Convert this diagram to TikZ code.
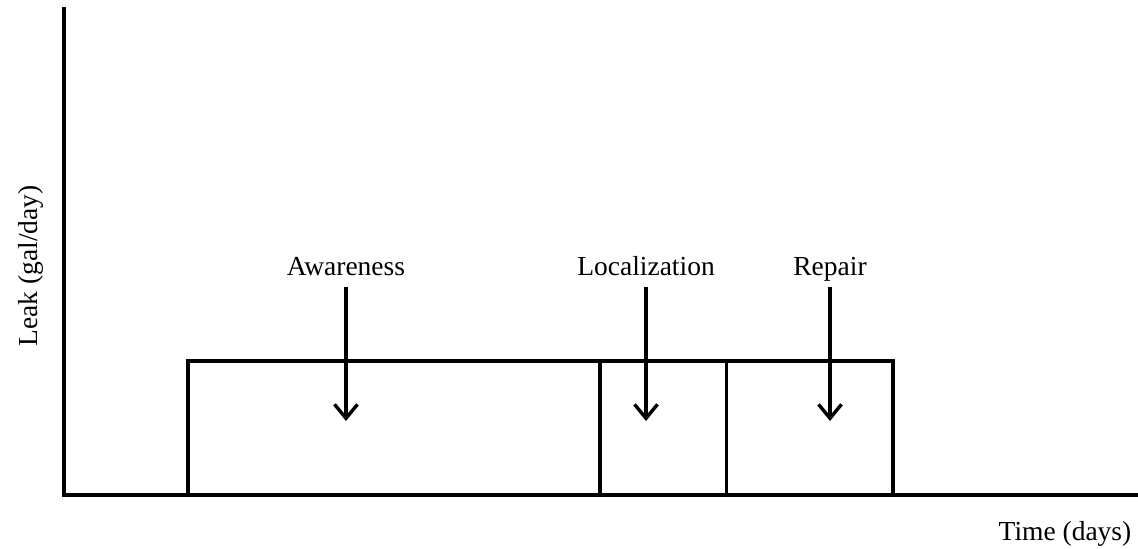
\documentclass[tikz,border=0pt]{standalone}
\usepackage{fontspec}
\setmainfont{Liberation Serif}
\usetikzlibrary{arrows.meta}

\begin{document}
\begin{tikzpicture}[x=0.5pt, y=0.5pt,
    axis/.style={line width=2.3pt},
    phase/.style={line width=1.7pt},
    pointer/.style={line width=1.7pt, -{Straight Barb[length=7pt, width=11.5pt]}},
    tag/.style={anchor=base, inner sep=0pt, font=\fontsize{13.75}{16}\selectfont}]

    \useasboundingbox (0,0) rectangle (1138,548);

    % axes
    \coordinate (origin) at (64,53);
    \coordinate (ytop) at (64,541);
    \coordinate (xend) at (1138,53);
    \draw[axis] (ytop) -- (origin) -- (xend);
    \node[tag, rotate=90] (leak) at (37,282) {Leak (gal/day)};
    \node[tag] (time) at (1065,8) {Time (days)};

    % phases
    \draw[phase] (188,53) rectangle (600,187);
    \draw[phase] (600,53) rectangle (726.5,187);
    \draw[phase] (726.5,53) rectangle (893,187);

    \node[tag] (awareness) at (346,273) {Awareness};
    \node[tag] (localization) at (646,273) {Localization};
    \node[tag] (repair) at (830,273) {Repair};

    \coordinate (awareness-tip) at (346,127);
    \coordinate (localization-tip) at (646,127);
    \coordinate (repair-tip) at (830,127);

    \draw[pointer] (awareness.base) ++(0,-12) -- (awareness-tip);
    \draw[pointer] (localization.base) ++(0,-12) -- (localization-tip);
    \draw[pointer] (repair.base) ++(0,-12) -- (repair-tip);
\end{tikzpicture}
\end{document}
